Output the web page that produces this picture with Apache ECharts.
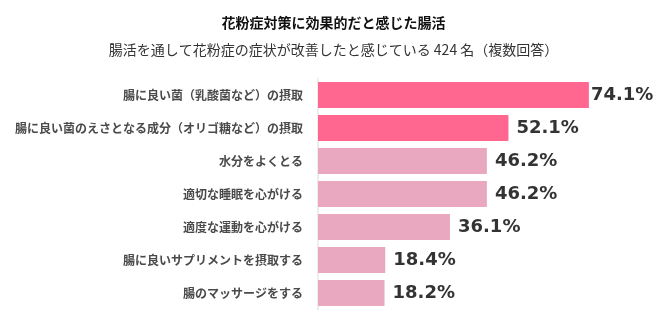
<!DOCTYPE html>
<html><head><meta charset="utf-8">
<script src="https://cdn.jsdelivr.net/npm/echarts@6/dist/echarts.min.js"></script>
<style>html,body{margin:0;padding:0;background:#fff}#c{width:667px;height:327px}</style>
</head><body><div id="c"></div>
<script>
const categories = [
  "腸に良い菌（乳酸菌など）の摂取",
  "腸に良い菌のえさとなる成分（オリゴ糖など）の摂取",
  "水分をよくとる",
  "適切な睡眠を心がける",
  "適度な運動を心がける",
  "腸に良いサプリメントを摂取する",
  "腸のマッサージをする"
];
const values = [74.1, 52.1, 46.2, 46.2, 36.1, 18.4, 18.2];
const highlightCount = 2;
const titleText = "花粉症対策に効果的だと感じた腸活";
const subtitleText = "腸活を通して花粉症の症状が改善したと感じている 424 名（複数回答）";

const chart = echarts.init(document.getElementById('c'), null, {renderer: 'canvas'});
const data = values.map((v, i) => ({
  value: v,
  itemStyle: {color: i < highlightCount ? '#ff6690' : '#e9a7c0'},
  label: {distance: i === 0 ? 2 : 8}
}));
chart.setOption({
  animation: false,
  backgroundColor: '#fff',
  title: [
    {text: titleText, left: 'center', top: 11, textStyle: {fontSize: 14, fontWeight: 'bold', color: '#111', fontFamily: 'Noto Sans CJK JP'}},
    {text: subtitleText, left: 'center', top: 38, textStyle: {fontSize: 14, fontWeight: 'normal', color: '#333', fontFamily: 'Noto Sans CJK JP'}}
  ],
  grid: {left: 318, right: 20, top: 78.5, bottom: 17.5, containLabel: false},
  xAxis: {type: 'value', min: 0, max: 90, show: false},
  yAxis: {
    type: 'category', data: categories, inverse: true,
    axisLine: {show: true, lineStyle: {color: '#eeeeee', width: 2}},
    axisTick: {show: false},
    axisLabel: {fontSize: 12, fontWeight: 'bold', color: '#4a4a4a', margin: 15, fontFamily: 'Noto Sans CJK JP'}
  },
  series: [{
    type: 'bar', data: data, barWidth: 26,
    label: {show: true, position: 'right', formatter: p => p.value.toFixed(1) + '%',
      fontSize: 18, fontWeight: 'bold', color: '#333', fontFamily: 'DejaVu Sans'}
  }]
});
</script></body></html>
